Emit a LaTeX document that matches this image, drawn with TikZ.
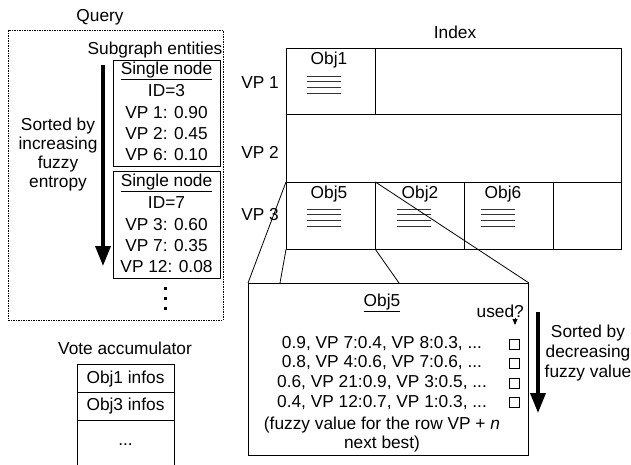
\documentclass[tikz,border=0pt]{standalone}
\usepackage{fontspec}
\setmainfont{Liberation Sans}
\usetikzlibrary{arrows.meta}
\begin{document}
\begin{tikzpicture}[x=1pt,y=-1pt,
  font=\fontsize{17.3pt}{21pt}\selectfont,
  txt/.style={inner sep=0pt, anchor=center},
  frame/.style={draw, line width=1pt, inner sep=0pt, anchor=north west},
  cell/.style={inner sep=0pt, anchor=north west, minimum width=89pt, minimum height=67pt},
  stack/.style={line width=0.9pt, draw=black!80},
  bigarrow/.style={line width=3.5pt, -{Triangle[width=15pt,length=20pt]}},
  zoomline/.style={line width=0.8pt},
  chk/.style={draw, line width=0.8pt, minimum width=10pt, minimum height=10pt, inner sep=0pt}
]
\useasboundingbox (0,0) rectangle (631,465);

% ---------------- Query ----------------
\node[txt] (qlabel) at (100,17) {Query};
\node[frame, draw, dash pattern=on 1.5pt off 1pt, line width=0.8pt, minimum width=215pt, minimum height=290pt] (query) at (8,30) {};
\node[txt] (subg) at (155,50) {Subgraph entities};

\node[frame, minimum width=107pt, minimum height=106pt] (sn1) at (113,60) {};
\node[txt] (sn1a) at (166.5,71) {\underline{Single node}};
\node[txt] (sn1b) at (166.5,91) {ID=3};
\node[txt] (sn1c) at (166.5,113) {VP 1: 0.90};
\node[txt] (sn1d) at (166.5,134) {VP 2: 0.45};
\node[txt] (sn1e) at (166.5,155) {VP 6: 0.10};

\node[frame, minimum width=107pt, minimum height=107pt] (sn2) at (113,171) {};
\node[txt] (sn2a) at (166.5,183) {\underline{Single node}};
\node[txt] (sn2b) at (166.5,203) {ID=7};
\node[txt] (sn2c) at (166.5,225) {VP 3: 0.60};
\node[txt] (sn2d) at (166.5,246) {VP 7: 0.35};
\node[txt] (sn2e) at (166.5,267) {VP 12: 0.08};

\fill (163.5,286.5) rectangle +(3,3);
\fill (163.5,296.5) rectangle +(3,3);
\fill (163.5,306.5) rectangle +(3,3);

\coordinate (qa1) at (103,65);
\coordinate (qa2) at (103,266);
\draw[bigarrow] (qa1) -- (qa2);
\node[txt, align=center, font=\fontsize{17.3pt}{19pt}\selectfont] (qsort) at (58,155) {Sorted by\\increasing\\fuzzy\\entropy};

% ---------------- Vote accumulator ----------------
\node[txt] (vlabel) at (125,348) {Vote accumulator};
\coordinate (v1) at (77,466);
\coordinate (v2) at (77,364);
\coordinate (v3) at (174,364);
\coordinate (v4) at (174,466);
\draw[line width=1pt] (v1) -- (v2) -- (v3) -- (v4);
\draw[line width=1pt] (77,392) -- (174,392);
\draw[line width=1pt] (77,420) -- (174,420);
\node[txt] (vo1) at (125.5,379) {Obj1 infos};
\node[txt] (vo3) at (125.5,406) {Obj3 infos};
\node[txt] (vdots) at (125.5,445) {...};

% ---------------- Index ----------------
\node[txt] (ilabel) at (455,32) {Index};
\node[frame, minimum width=335pt, minimum height=201pt] (index) at (286,48) {};
\draw[line width=1pt] (286,115) -- (621,115);
\draw[line width=1pt] (286,182) -- (621,182);
\node[cell] (c1) at (286,48) {};
\node[cell] (c5) at (286,182) {};
\node[cell] (c2) at (375,182) {};
\node[cell] (c6) at (464,182) {};
\draw[line width=1pt] (c1.north east) -- (c1.south east);
\draw[line width=1pt] (c5.north east) -- (c5.south east);
\draw[line width=1pt] (c2.north east) -- (c2.south east);
\draw[line width=1pt] (c6.north east) -- (c6.south east);

\node[txt, anchor=east] (vp1) at (279,83) {VP 1};
\node[txt, anchor=east] (vp2) at (279,152) {VP 2};
\node[txt, anchor=east] (vp3) at (279,215) {VP 3};

\node[txt] (o1) at (329,60) {Obj1};
\node[txt] (o5) at (329,194) {Obj5};
\node[txt] (o2) at (420,194) {Obj2};
\node[txt] (o6) at (503,194) {Obj6};
\foreach \dy in {0,5.7,11.4,17.1}{
  \draw[stack] (307,76+\dy) -- (341,76+\dy);
  \draw[stack] (307,209+\dy) -- (341,209+\dy);
  \draw[stack] (397,209+\dy) -- (431,209+\dy);
  \draw[stack] (481,209+\dy) -- (515,209+\dy);
}

% ---------------- Detail box ----------------
\node[frame, fill=white, minimum width=280pt, minimum height=172pt] (detail) at (248,283) {};
\coordinate (dA) at (280,283);
\coordinate (dB) at (399,283);
\draw[zoomline] (c5.north west) -- (detail.north west);
\draw[zoomline] (c5.south west) -- (dA);
\draw[zoomline] (c5.south east) -- (dB);
\draw[zoomline] (c5.north east) -- (detail.north east);

\node[txt] (d0) at (382,303) {\underline{Obj5}};
\node[txt, anchor=east] (used) at (524,311) {used?};
\coordinate (u1) at (515,318);
\coordinate (u2) at (515,325);
\draw[line width=0.8pt, -{Triangle[width=5pt,length=6pt]}] (u1) -- (u2);
\node[txt] (d1) at (382,344) {0.9, VP 7:0.4, VP 8:0.3, ...};
\node[txt] (d2) at (382,363) {0.8, VP 4:0.6, VP 7:0.6, ...};
\node[txt] (d3) at (382,383) {0.6, VP 21:0.9, VP 3:0.5, ...};
\node[txt] (d4) at (382,403) {0.4, VP 12:0.7, VP 1:0.3, ...};
\node[txt] (d5) at (382,425) {(fuzzy value for the row VP + \textit{n}};
\node[txt] (d6) at (382,444) {next best)};
\node[chk] (k1) at (514,344) {};
\node[chk] (k2) at (514,363) {};
\node[chk] (k3) at (514,383) {};
\node[chk] (k4) at (514,402) {};

\coordinate (ra1) at (538,312);
\coordinate (ra2) at (538,413);
\draw[bigarrow] (ra1) -- (ra2);
\node[txt, align=center, font=\fontsize{17.3pt}{20pt}\selectfont] (rsort) at (588,353) {Sorted by\\decreasing\\fuzzy value};
\end{tikzpicture}
\end{document}
